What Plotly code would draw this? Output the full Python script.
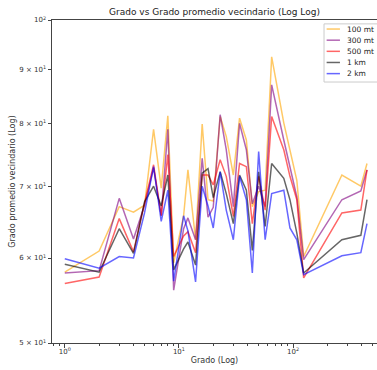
import plotly.graph_objects as go
import numpy as np

# Grado (eje x, escala log)
grado = [1, 2, 3, 4, 5, 6, 7, 8, 9, 11, 12, 14, 16, 18, 20, 23, 26, 30, 34, 39,
         44, 50, 57, 65, 83, 94, 108, 124, 268, 393, 445]

# Grado promedio vecindario por radio
v_100mt = [58.2, 60.9, 67.0, 66.2, 67.2, 79.1, 69.7, 81.4, 59.4, 65.7, 72.5, 62.4,
           80.0, 68.0, 67.8, 81.3, 77.9, 71.7, 81.0, 77.3, 67.0, 69.2, 69.4, 92.4,
           80.2, 75.7, 70.9, 60.2, 71.7, 70.0, 73.5]
v_300mt = [58.1, 58.4, 68.2, 62.5, 67.2, 72.8, 65.7, 79.1, 56.0, 63.9, 65.4, 62.4,
           74.3, 65.5, 66.9, 81.6, 75.7, 67.0, 80.1, 75.7, 67.4, 70.0, 67.0, 87.0,
           77.3, 73.0, 68.4, 59.8, 68.0, 69.3, 72.5]
v_500mt = [56.8, 57.6, 65.3, 60.8, 67.5, 73.3, 65.7, 74.9, 60.2, 62.9, 63.5, 60.7,
           71.7, 71.7, 70.2, 74.1, 71.5, 65.6, 73.5, 73.0, 64.6, 71.5, 66.5, 81.3,
           75.7, 71.5, 68.0, 57.5, 66.1, 66.5, 72.5]
v_1km = [59.2, 58.2, 63.9, 60.6, 67.7, 70.0, 67.1, 71.7, 58.5, 61.2, 62.1, 59.1,
         72.0, 72.7, 68.3, 72.2, 68.9, 64.6, 71.7, 69.4, 61.0, 72.2, 64.2, 73.5,
         71.2, 68.0, 63.3, 58.1, 62.4, 63.0, 68.0]
v_2km = [59.9, 58.7, 60.2, 60.0, 66.1, 73.0, 64.9, 69.4, 57.1, 65.7, 63.6, 57.0,
         70.0, 67.1, 64.0, 72.2, 66.5, 62.4, 71.5, 68.0, 58.1, 75.4, 62.4, 68.9,
         69.4, 64.0, 62.4, 57.9, 60.3, 60.7, 64.6]

series = [
    ("100 mt", v_100mt, "rgba(255,165,0,0.6)"),
    ("300 mt", v_300mt, "rgba(128,0,128,0.6)"),
    ("500 mt", v_500mt, "rgba(255,0,0,0.6)"),
    ("1 km", v_1km, "rgba(0,0,0,0.6)"),
    ("2 km", v_2km, "rgba(0,0,255,0.6)"),
]

y_ticks = [50, 60, 70, 80, 90, 100]
y_tick_text = ["5 × 10<sup>1</sup>", "6 × 10<sup>1</sup>", "7 × 10<sup>1</sup>",
               "8 × 10<sup>1</sup>", "9 × 10<sup>1</sup>", "10<sup>2</sup>"]
x_ticks = [1, 10, 100]
x_tick_text = ["10<sup>0</sup>", "10<sup>1</sup>", "10<sup>2</sup>"]
x_minor = [m * 10 ** e for e in range(-1, 3) for m in range(2, 10)]

fig = go.Figure()
for name, vals, color in series:
    fig.add_trace(go.Scatter(x=grado, y=vals, mode="lines", name=name,
                             line=dict(color=color, width=1.5), showlegend=False))

# Compact legend box in the upper-right corner (paper coordinates)
box_x0, box_x1, box_y0, box_y1 = 0.837, 1.01, 0.808, 0.988
fig.add_shape(type="rect", xref="paper", yref="paper",
              x0=box_x0, x1=box_x1, y0=box_y0, y1=box_y1,
              line=dict(color="#cccccc", width=1), fillcolor="white", layer="above")
row_y0, row_step = 0.972, 0.0345
for i, (name, _, color) in enumerate(series):
    yy = row_y0 - i * row_step
    fig.add_shape(type="line", xref="paper", yref="paper",
                  x0=0.845, x1=0.886, y0=yy, y1=yy,
                  line=dict(color=color, width=1.5), layer="above")
    fig.add_annotation(text=name, xref="paper", yref="paper", x=0.901, y=yy,
                       xanchor="left", yanchor="middle", showarrow=False,
                       font=dict(size=7.5, color="#222"))

font = "DejaVu Sans, sans-serif"
fig.update_layout(
    width=377, height=370,
    margin=dict(l=52, r=0, t=20, b=27),
    paper_bgcolor="white", plot_bgcolor="white",
    font=dict(family=font, size=7, color="#333"),
    title=dict(text="Grado vs Grado promedio vecindario (Log Log)",
               x=0.5, xref="paper", y=0.968, yref="container", yanchor="middle",
               font=dict(size=9, color="#222")),
    showlegend=False,
)
fig.update_xaxes(
    type="log", range=[-0.112, 2.736],
    tickvals=x_ticks, ticktext=x_tick_text,
    ticks="outside", ticklen=3.5, tickcolor="#444",
    ticklabelstandoff=-2,
    showgrid=False, zeroline=False,
    showline=True, linecolor="#444", linewidth=1, mirror=True,
    minor=dict(tickvals=x_minor, ticks="outside", ticklen=2, tickcolor="#444", showgrid=False),
    title=dict(text="Grado (Log)", font=dict(size=8, color="#333"), standoff=2),
)
fig.update_yaxes(
    type="log", range=[np.log10(50), np.log10(100)],
    tickvals=y_ticks, ticktext=y_tick_text,
    ticks="outside", ticklen=3.5, tickcolor="#444",
    showgrid=False, zeroline=False,
    showline=True, linecolor="#444", linewidth=1, mirror=False,
    title=dict(text="Grado promedio vecindario (Log)", font=dict(size=8, color="#333"), standoff=2),
)

fig.write_html("out.html")
